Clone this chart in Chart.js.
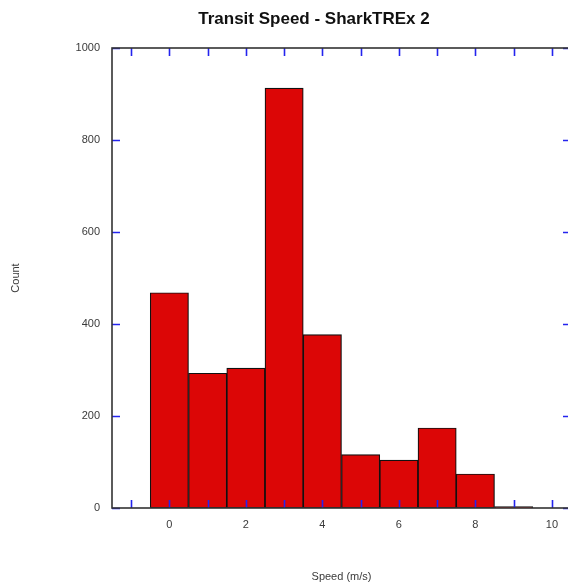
<!DOCTYPE html>
<html>
<head>
<meta charset="utf-8">
<script src="https://cdn.jsdelivr.net/npm/chart.js@4"></script>
<style>
  html, body { margin: 0; padding: 0; background: #fff; overflow: hidden; }
  #wrap { width: 568px; height: 585px; overflow: hidden; }
</style>
</head>
<body>
<div id="wrap"><canvas id="speed-chart" width="600" height="585"></canvas></div>
<script>
const chartTitle = 'Transit Speed - SharkTREx 2';
const xTitle = 'Speed (m/s)';
const yTitle = 'Count';

// histogram bins (bin centre, m/s) and counts
const speedBins = [0, 1, 2, 3, 4, 5, 6, 7, 8, 9];
const counts = [468, 293, 304, 913, 377, 116, 104, 174, 74, 3];

const xRange = [-1.5, 10.5];
const xTickValues = [-1, 0, 1, 2, 3, 4, 5, 6, 7, 8, 9, 10];
const yTicks = [0, 200, 400, 600, 800, 1000];

const textColor = '#3a3a3a';
const tickBlue = '#2424ee';
const font = { family: '"Liberation Sans", Arial, sans-serif', size: 11 };

// blue inward ticks on all four sides + frame + title
const frameTicks = {
    id: 'frameTicks',
    afterDatasetsDraw(chart) {
        const { ctx, chartArea: a, scales: { x, y } } = chart;
        const len = 8;
        ctx.save();
        ctx.strokeStyle = tickBlue;
        ctx.lineWidth = 1.6;
        ctx.beginPath();
        x.ticks.forEach(t => {
            const px = Math.round(x.getPixelForValue(t.value)) + 0.5;
            ctx.moveTo(px, a.bottom); ctx.lineTo(px, a.bottom - len);
            ctx.moveTo(px, a.top); ctx.lineTo(px, a.top + len);
        });
        y.ticks.forEach(t => {
            const py = Math.round(y.getPixelForValue(t.value)) + 0.5;
            ctx.moveTo(a.left, py); ctx.lineTo(a.left + len, py);
            ctx.moveTo(a.right, py); ctx.lineTo(a.right - len, py);
        });
        ctx.stroke();

        ctx.strokeStyle = '#333';
        ctx.lineWidth = 1.6;
        ctx.strokeRect(a.left, a.top, a.right - a.left, a.bottom - a.top);

        ctx.fillStyle = '#111';
        ctx.font = 'bold 17px "Liberation Sans", Arial, sans-serif';
        ctx.textAlign = 'center';
        ctx.textBaseline = 'middle';
        ctx.fillText(chartTitle, 314, 19);
        ctx.restore();
    }
};

new Chart(document.getElementById('speed-chart'), {
    type: 'bar',
    data: {
        datasets: [{
            data: speedBins.map((s, i) => ({ x: s, y: counts[i] })),
            backgroundColor: '#dc0606',
            borderColor: '#111',
            borderWidth: 1.2,
            borderSkipped: false,
            categoryPercentage: 1,
            barPercentage: 1
        }]
    },
    options: {
        responsive: false,
        animation: false,
        layout: { padding: { top: 48, right: 29, left: 0, bottom: 0 } },
        plugins: {
            legend: { display: false },
            tooltip: { enabled: false },
            title: { display: false }
        },
        scales: {
            x: {
                type: 'linear',
                offset: false,
                min: xRange[0],
                max: xRange[1],
                afterBuildTicks: s => { s.ticks = xTickValues.map(v => ({ value: v })); },
                afterFit: s => { s.height = 77; },
                grid: { display: false, drawTicks: false },
                border: { display: false },
                ticks: {
                    padding: 10,
                    color: textColor,
                    font,
                    autoSkip: false,
                    maxRotation: 0,
                    callback: v => (v % 2 === 0 ? String(v) : '')
                },
                title: { display: true, text: xTitle, color: textColor, font, padding: { top: 0, bottom: 1 } }
            },
            y: {
                min: 0,
                max: 1000,
                afterBuildTicks: s => { s.ticks = yTicks.map(v => ({ value: v })); },
                afterFit: s => { s.width = 112; },
                grid: { display: false, drawTicks: false },
                border: { display: false },
                ticks: { padding: 12, color: textColor, font, callback: v => String(v) },
                title: { display: true, text: yTitle, color: textColor, font, padding: { top: 9, bottom: 0 } }
            }
        }
    },
    plugins: [frameTicks]
});
</script>
</body>
</html>
